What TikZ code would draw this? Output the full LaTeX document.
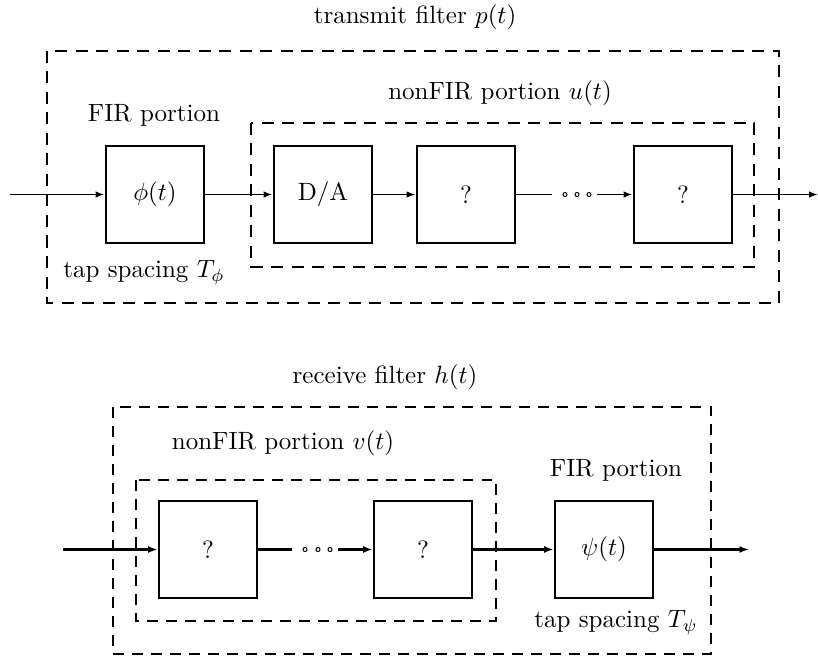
\documentclass[tikz,border=0pt]{standalone}
\usetikzlibrary{arrows.meta}
\begin{document}
\begin{tikzpicture}[x=0.4pt,y=-0.4pt,
  blk/.style={draw,line width=1.1pt,minimum width=39.2pt,minimum height=38.8pt,inner sep=0pt},
  frame/.style={line width=1.1pt,dash pattern=on 4.8pt off 3.4pt},
  frameb/.style={line width=0.9pt,dash pattern=on 4.2pt off 3.4pt},
  lbl/.style={inner sep=0pt},
  sig/.style={line width=0.7pt,-{Latex[length=3.6pt,width=2.6pt]}},
  sigb/.style={line width=1pt,-{Latex[length=3.8pt,width=2.8pt]}},
  pln/.style={line width=0.7pt},
  plnb/.style={line width=1pt},
  dot/.style={circle,draw,line width=0.4pt,minimum size=1.6pt,inner sep=0pt}]
\useasboundingbox (0,0) rectangle (818,658);
% ---------- transmit filter ----------
\node[lbl] (t1) at (415,17) {transmit filter $p(t)$};
\draw[frame] (47,51) rectangle (779,303);
\draw[frame] (251,123) rectangle (754,267);
\node[lbl] (fir1) at (154,115) {FIR portion};
\node[lbl] (nf1) at (500,93) {nonFIR portion $u(t)$};
\node[lbl] (tap1) at (144,273) {tap spacing $T_\phi$};
\node[blk] (phi) at (155,194.5) {$\phi(t)$};
\node[blk] (da) at (323,194.5) {D/A};
\node[blk] (qa) at (466,194.5) {?};
\node[blk] (qb) at (683,194.5) {?};
\coordinate (in1) at (10,194.5);
\coordinate (out1) at (818,194.5);
\coordinate (d1s) at (552,194.5);
\coordinate (d1e) at (597,194.5);
\node[dot] (c11) at (565,194.5) {};
\node[dot] (c12) at (577,194.5) {};
\node[dot] (c13) at (589,194.5) {};
\draw[sig] (in1) -- (phi);
\draw[sig] (phi) -- (da);
\draw[sig] (da) -- (qa);
\draw[pln] (qa) -- (d1s);
\draw[sig] (d1e) -- (qb);
\draw[sig] (qb) -- (out1);
% ---------- receive filter ----------
\node[lbl] (t2) at (385,377) {receive filter $h(t)$};
\draw[frameb] (113,407) rectangle (711,654);
\draw[frameb] (136,480) rectangle (496,621);
\node[lbl] (nf2) at (283,443) {nonFIR portion $v(t)$};
\node[lbl] (fir2) at (616,470) {FIR portion};
\node[lbl] (tap2) at (616,623) {tap spacing $T_\psi$};
\node[blk] (ra) at (208,549.5) {?};
\node[blk] (rb) at (423,549.5) {?};
\node[blk] (psi) at (604,549.5) {$\psi(t)$};
\coordinate (in2) at (63,549.5);
\coordinate (out2) at (749,549.5);
\coordinate (d2s) at (292,549.5);
\coordinate (d2e) at (338,549.5);
\node[dot] (c21) at (305,549.5) {};
\node[dot] (c22) at (318,549.5) {};
\node[dot] (c23) at (330,549.5) {};
\draw[sigb] (in2) -- (ra);
\draw[plnb] (ra) -- (d2s);
\draw[sigb] (d2e) -- (rb);
\draw[sigb] (rb) -- (psi);
\draw[sigb] (psi) -- (out2);
\end{tikzpicture}
\end{document}
